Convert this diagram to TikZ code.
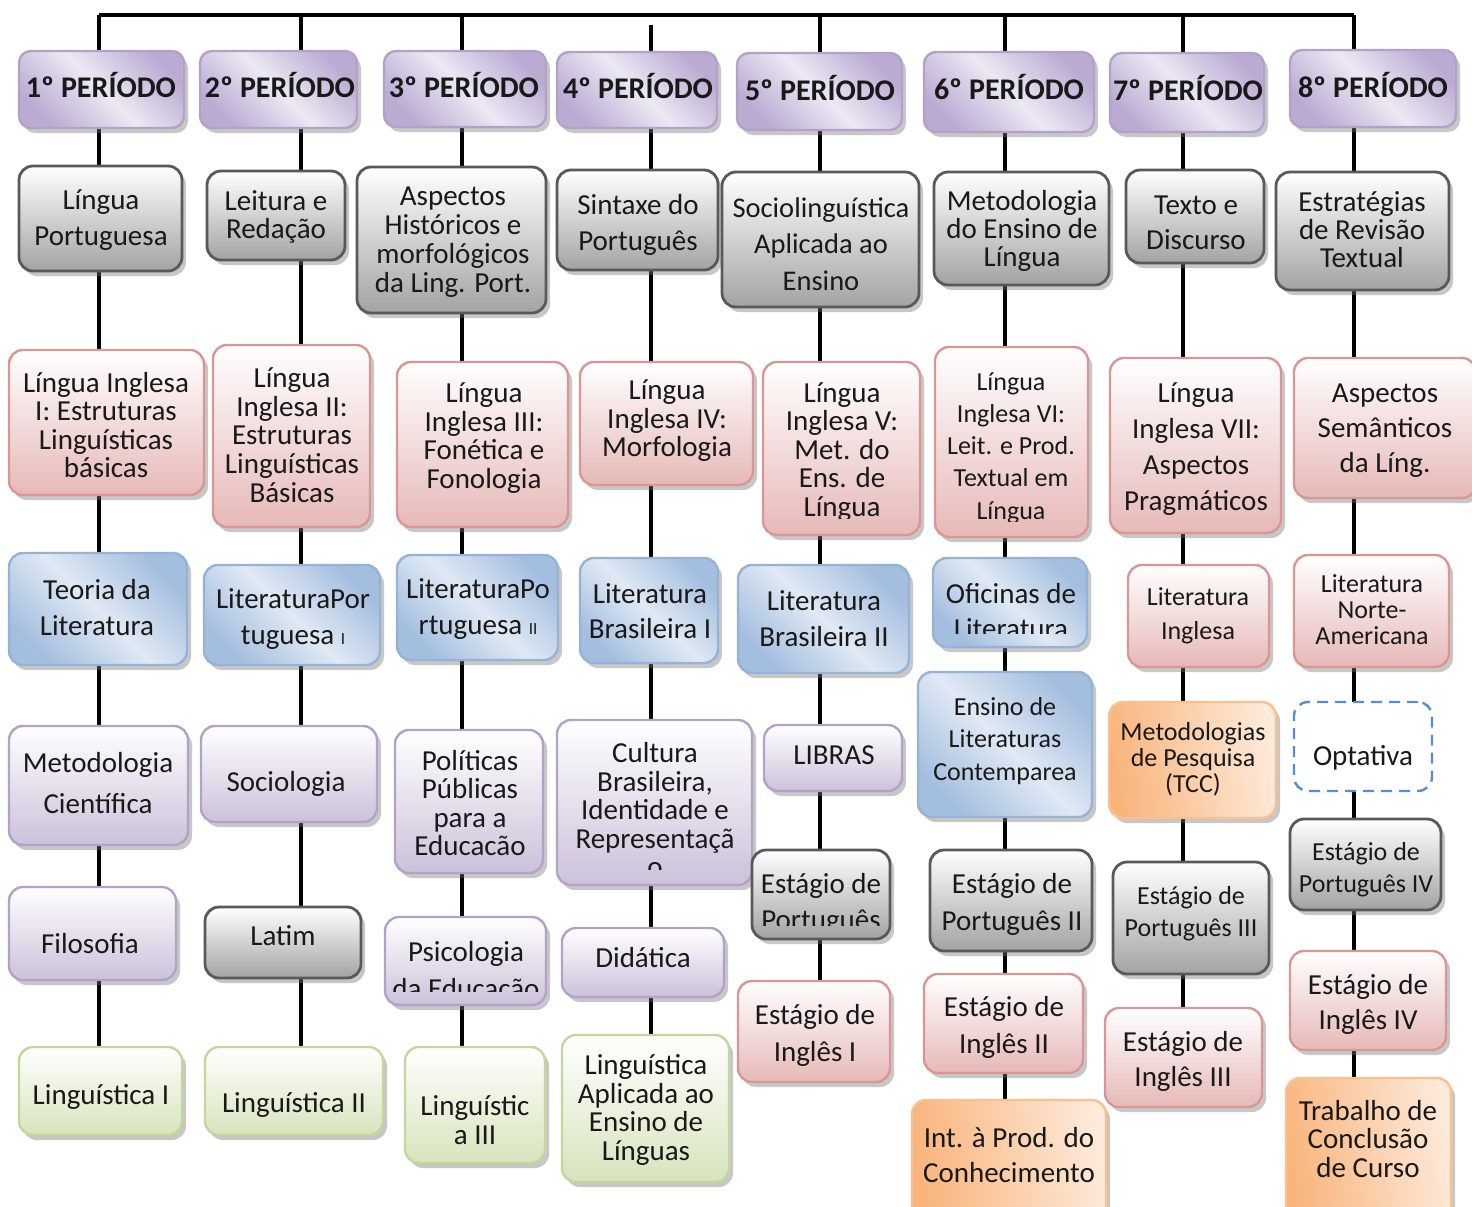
\documentclass[tikz,border=0pt]{standalone}
\usepackage{fontspec}
\setmainfont{Carlito}
\usetikzlibrary{shadows,backgrounds}
\definecolor{purpline}{HTML}{B3A2C7}
\definecolor{purpdark}{HTML}{BBABD3}
\definecolor{purplite}{HTML}{ECE8F3}
\definecolor{purpbot}{HTML}{CCC1DA}
\definecolor{grayline}{HTML}{595959}
\definecolor{graybot}{HTML}{A3A3A3}
\definecolor{pinkline}{HTML}{D99694}
\definecolor{pinkbot}{HTML}{E6B9B8}
\definecolor{blueline}{HTML}{95B3D7}
\definecolor{bluedark}{HTML}{A4BEDF}
\definecolor{bluelite}{HTML}{E0E9F4}
\definecolor{greenline}{HTML}{C3D69B}
\definecolor{greenbot}{HTML}{D7E4BD}
\definecolor{orangeline}{HTML}{FAC090}
\definecolor{orangedark}{HTML}{F9B47C}
\definecolor{orangelite}{HTML}{FDEADA}
\definecolor{optline}{HTML}{558ED5}
\def\bx[#1](#2)(#3,#4,#5,#6){\node[#1, minimum width={#5pt-#3pt}, minimum height={#6pt-#4pt}] (#2) at ({(#3+#5)/2},{(#4+#6)/2}) {};}
\tikzset{
	bx/.style={draw, line width=2.4pt, rounded corners=14pt, inner sep=0pt,
		drop shadow={shadow xshift=4pt, shadow yshift=-5pt, fill=black!55, opacity=0.4}},
	hdr/.style={bx, draw=purpline, left color=purpdark, right color=purpdark, middle color=purplite, shading angle=-45, rounded corners=12pt},
	grayb/.style={bx, draw=grayline, line width=2.8pt, top color=white, bottom color=graybot},
	pinkb/.style={bx, draw=pinkline, top color=white, bottom color=pinkbot},
	purpb/.style={bx, draw=purpline, top color=white, bottom color=purpbot},
	blueb/.style={bx, draw=blueline, left color=bluedark, right color=bluedark, middle color=bluelite, shading angle=-45},
	greenb/.style={bx, draw=greenline, top color=white, bottom color=greenbot},
	orangeb/.style={bx, draw=orangeline, left color=orangedark, right color=orangelite, shading angle=100},
	optb/.style={draw=optline, line width=2.4pt, dash pattern=on 11pt off 7pt, rounded corners=14pt, fill=white, inner sep=0pt},
	txt/.style={align=center, inner sep=0pt, text=black!90},
	fs/.style 2 args={font=\fontsize{#1}{#2}\selectfont},
	hfont/.style={font=\bfseries\fontsize{30}{36}\selectfont},
	col/.style={line width=3.6pt}
}
\begin{document}
\begin{tikzpicture}[x=1pt, y=-1pt]
			\useasboundingbox (0,0) rectangle (1472,1207);
			
			%%%%% PERIODOS %%%%%
			\coordinate (t1) at (99,15);
			\coordinate (t2) at (301,15);
			\coordinate (t3) at (462,15);
			\coordinate (t4) at (651,25);
			\coordinate (t5) at (820,15);
			\coordinate (t6) at (1005,15);
			\coordinate (t7) at (1183,15);
			\coordinate (t8) at (1354,15);
			
			\bx[hdr](h1)(19,51,184,128)
			\node[txt, hfont] (h1t) at (101,85) {1º PERÍODO};
			\bx[hdr](h2)(200,51,357,128)
			\node[txt, hfont] (h2t) at (280,85) {2º PERÍODO};
			\bx[hdr](h3)(384,51,546,127)
			\node[txt, hfont] (h3t) at (464,85) {3º PERÍODO};
			\bx[hdr](h4)(557,52,717,128)
			\node[txt, hfont] (h4t) at (638,86) {4º PERÍODO};
			\bx[hdr](h5)(737,53,902,130)
			\node[txt, hfont] (h5t) at (820,88) {5º PERÍODO};
			\bx[hdr](h6)(924,52,1094,132)
			\node[txt, hfont] (h6t) at (1009,87) {6º PERÍODO};
			\bx[hdr](h7)(1110,53,1264,132)
			\node[txt, hfont] (h7t) at (1188,88) {7º PERÍODO};
			\bx[hdr](h8)(1290,50,1456,127)
			\node[txt, hfont] (h8t) at (1373,85) {8º PERÍODO};
			
			%%%%% 1 %%%%%
			\bx[grayb](c1a)(19,166,182,271)
			\node[txt, fs={29}{36}] (c1at) at (101,220) {Língua\\Portuguesa};
			\bx[pinkb](c1b)(9,350,204,495)
			\node[txt, fs={29}{28.5}] (c1bt) at (106,425) {Língua Inglesa\\I: Estruturas\\Linguísticas\\básicas};
			\bx[blueb](c1c)(9,553,187,665)
			\node[txt, fs={29}{36}] (c1ct) at (97,608) {Teoria da\\Literatura};
			\bx[purpb](c1d)(9,726,188,845)
			\node[txt, fs={29}{41}] (c1dt) at (98,783) {Metodologia\\Científica};
			\bx[purpb](c1e)(9,887,176,980)
			\node[txt, fs={29}{36}] (c1et) at (90,944) {Filosofia};
			\bx[greenb](c1f)(19,1047,182,1135)
			\node[txt, fs={29}{36}] (c1ft) at (101,1097) {Linguística I};
			
			%%%%% 2 %%%%%
			\bx[grayb](c2a)(207,171,345,260)
			\node[txt, fs={29}{28.5}] (c2at) at (276,217) {Leitura e\\Redação};
			\bx[pinkb](c2b)(213,345,370,527)
			\node[txt, fs={29}{28.8}] (c2bt) at (292,435) {Língua\\Inglesa II:\\Estruturas\\Linguísticas\\Básicas};
			\bx[blueb](c2c)(204,565,380,665)
			\node[txt, fs={29}{36}] (c2ct) at (293,619) {LiteraturaPor\\tuguesa {\fontsize{17}{17}\selectfont I}};
			\bx[purpb](c2d)(201,726,377,822)
			\node[txt, fs={29}{36}] (c2dt) at (286,784) {Sociologia};
			\bx[grayb](c2e)(205,907,361,978)
			\node[txt, fs={29}{36}] (c2et) at (283,936) {Latim};
			\bx[greenb](c2f)(205,1047,383,1135)
			\node[txt, fs={29}{36}] (c2ft) at (294,1105) {Linguística II};
			
			%%%%% 3 %%%%%
			\bx[grayb](c3a)(357,167,546,313)
			\begin{scope}
				\clip (c3a.north west) rectangle ([yshift=18pt]c3a.south east);
				\node[txt, fs={29}{29}] (c3at) at (453,242) {Aspectos\\Históricos e\\morfológicos\\da Ling. Port.};
			\end{scope}
			\bx[pinkb](c3b)(397,362,568,527)
			\node[txt, fs={29}{28.7}] (c3bt) at (484,438) {Língua\\Inglesa III:\\Fonética e\\Fonologia};
			\bx[blueb](c3c)(397,555,558,660)
			\node[txt, fs={29}{36}] (c3ct) at (478,609) {LiteraturaPo\\rtuguesa {\fontsize{17}{17}\selectfont II}};
			\bx[purpb](c3d)(395,730,543,873)
			\node[txt, fs={29}{28.5}] (c3dt) at (470,803) {Políticas\\Públicas\\para a\\Educacão};
			\bx[purpb](c3e)(385,917,546,1005)
			\begin{scope}
				\clip (c3e.north west) rectangle ([yshift=15pt]c3e.south east);
				\node[txt, fs={29}{37}] (c3et) at (466,972) {Psicologia\\da Educação};
			\end{scope}
			\bx[greenb](c3f)(405,1047,545,1163)
			\node[txt, fs={29}{28.5}] (c3ft) at (475,1120) {Linguístic\\a III};
			
			%%%%% 4 %%%%%
			\bx[grayb](c4a)(557,170,718,270)
			\node[txt, fs={29}{36}] (c4at) at (638,225) {Sintaxe do\\Português};
			\bx[pinkb](c4b)(580,362,753,485)
			\node[txt, fs={29}{28.5}] (c4bt) at (667,421) {Língua\\Inglesa IV:\\Morfologia};
			\bx[blueb](c4c)(580,558,718,663)
			\node[txt, fs={29}{35}] (c4ct) at (650,611) {Literatura\\Brasileira I};
			\bx[purpb](c4d)(557,720,752,885)
			\begin{scope}
				\clip (c4d.north west) rectangle ([yshift=17pt]c4d.south east);
				\node[txt, fs={29}{28.5}] (c4dt) at (655,810) {Cultura\\Brasileira,\\Identidade e\\Representaçã\\o};
			\end{scope}
			\bx[purpb](c4e)(562,928,724,997)
			\node[txt, fs={29}{36}] (c4et) at (643,958) {Didática};
			\bx[greenb](c4f)(562,1035,729,1182)
			\node[txt, fs={29}{28.5}] (c4ft) at (646,1110) {Linguística\\Aplicada ao\\Ensino de\\Línguas};
			
			%%%%% 5 %%%%%
			\bx[grayb](c5a)(722,172,919,307)
			\node[txt, fs={28.5}{36.5}] (c5at) at (821,244) {Sociolinguística\\Aplicada ao\\Ensino};
			\bx[pinkb](c5b)(763,362,920,535)
			\begin{scope}
				\clip (c5b.north west) rectangle ([yshift=18pt]c5b.south east);
				\node[txt, fs={29}{28.5}] (c5bt) at (842,452) {Língua\\Inglesa V:\\Met. do\\Ens. de\\Língua};
			\end{scope}
			\bx[blueb](c5c)(738,565,909,673)
			\node[txt, fs={29}{36}] (c5ct) at (824,619) {Literatura\\Brasileira II};
			\bx[purpb](c5d)(764,725,902,791)
			\node[txt, fs={29}{36}] (c5dt) at (834,755) {LIBRAS};
			\bx[grayb](c5e)(752,850,890,939)
			\begin{scope}
				\clip (c5e.north west) rectangle ([yshift=15pt]c5e.south east);
				\node[txt, fs={29}{36}] (c5et) at (821,904) {Estágio de\\Português};
			\end{scope}
			\bx[pinkb](c5f)(738,981,890,1082)
			\node[txt, fs={29}{37}] (c5ft) at (815,1035) {Estágio de\\Inglês I};
			
			%%%%% 6 %%%%%
			\bx[grayb](c6a)(934,172,1109,285)
			\node[txt, fs={29}{28}] (c6at) at (1022,231) {Metodologia\\do Ensino de\\Língua};
			\bx[pinkb](c6b)(935,347,1088,537)
			\begin{scope}
				\clip (c6b.north west) rectangle ([yshift=17pt]c6b.south east);
				\node[txt, fs={26}{32.3}] (c6bt) at (1011,448) {Língua\\Inglesa VI:\\Leit. e Prod.\\Textual em\\Língua};
			\end{scope}
			\bx[blueb](c6c)(933,558,1087,647)
			\begin{scope}
				\clip (c6c.north west) rectangle ([yshift=15pt]c6c.south east);
				\node[txt, fs={29}{35}] (c6ct) at (1011,611) {Oficinas de\\Literatura};
			\end{scope}
			\bx[blueb](c6d)(918,672,1092,817)
			\node[txt, fs={26}{32.5}] (c6dt) at (1005,741) {Ensino de\\Literaturas\\Contemparea};
			\bx[grayb](c6e)(930,850,1092,951)
			\node[txt, fs={29}{37}] (c6et) at (1012,904) {Estágio de\\Português II};
			\bx[pinkb](c6f)(924,974,1083,1073)
			\node[txt, fs={29}{37}] (c6ft) at (1004,1027) {Estágio de\\Inglês II};
			\bx[orangeb](c6g)(912,1100,1106,1230)
			\node[txt, fs={29}{35}] (c6gt) at (1009,1155) {Int. à Prod. do\\Conhecimento};
			
			%%%%% 7 %%%%%
			\bx[grayb](c7a)(1126,170,1264,263)
			\begin{scope}
				\clip (c7a.north west) rectangle ([yshift=15pt]c7a.south east);
				\node[txt, fs={29}{35}] (c7at) at (1196,223) {Texto e\\Discurso};
			\end{scope}
			\bx[pinkb](c7b)(1110,358,1281,533)
			\begin{scope}
				\clip (c7b.north west) rectangle ([yshift=20pt]c7b.south east);
				\node[txt, fs={29}{36}] (c7bt) at (1196,449) {Língua\\Inglesa VII:\\Aspectos\\Pragmáticos};
			\end{scope}
			\bx[pinkb](c7c)(1128,565,1269,667)
			\node[txt, fs={26}{34}] (c7ct) at (1198,616) {Literatura\\Inglesa};
			\bx[orangeb](c7d)(1109,702,1276,818)
			\node[txt, fs={26}{26}] (c7dt) at (1193,759) {Metodologias\\de Pesquisa\\(TCC)};
			\bx[grayb](c7e)(1113,862,1269,974)
			\node[txt, fs={26}{32}] (c7et) at (1191,914) {Estágio de\\Português III};
			\bx[pinkb](c7f)(1105,1008,1262,1107)
			\node[txt, fs={29}{35}] (c7ft) at (1183,1061) {Estágio de\\Inglês III};
			
			%%%%% 8 %%%%%
			\bx[grayb](c8a)(1276,172,1449,290)
			\node[txt, fs={29}{28}] (c8at) at (1362,230) {Estratégias\\de Revisão\\Textual};
			\bx[pinkb](c8b)(1294,358,1476,498)
			\node[txt, fs={29}{35}] (c8bt) at (1385,431) {Aspectos\\Semânticos\\da Líng.};
			\bx[pinkb](c8c)(1294,555,1449,667)
			\node[txt, fs={26}{26}] (c8ct) at (1372,610) {Literatura\\Norte-\\Americana};
			\bx[optb](c8d)(1294,702,1432,791)
			\node[txt, fs={29}{36}] (c8dt) at (1363,758) {Optativa};
			\bx[grayb](c8e)(1290,819,1441,910)
			\begin{scope}
				\clip (c8e.north west) rectangle ([yshift=15pt]c8e.south east);
				\node[txt, fs={26}{32}] (c8et) at (1366,870) {Estágio de\\Português IV};
			\end{scope}
			\bx[pinkb](c8f)(1290,951,1446,1050)
			\node[txt, fs={29}{35}] (c8ft) at (1368,1004) {Estágio de\\Inglês IV};
			\bx[orangeb](c8g)(1286,1078,1451,1230)
			\node[txt, fs={29}{28.5}] (c8gt) at (1368,1139) {Trabalho de\\Conclusão\\de Curso};
			
			%%%%% LINHAS %%%%%
			\begin{pgfonlayer}{background}
				\fill[white] (0,0) rectangle (1472,1207);
				\draw[col] (t1) -- (t8);
				\draw[col] (t1) -- (t1 |- c1f.north);
				\draw[col] (t2) -- (t2 |- c2f.north);
				\draw[col] (t3) -- (t3 |- c3f.north);
				\draw[col] (t4) -- (t4 |- c4f.north);
				\draw[col] (t5) -- (t5 |- c5f.north);
				\draw[col] (t6) -- (t6 |- c6g.north);
				\draw[col] (t7) -- (t7 |- c7f.north);
				\draw[col] (t8) -- (t8 |- c8g.north);
			\end{pgfonlayer}
			
		\end{tikzpicture}
\end{document}
